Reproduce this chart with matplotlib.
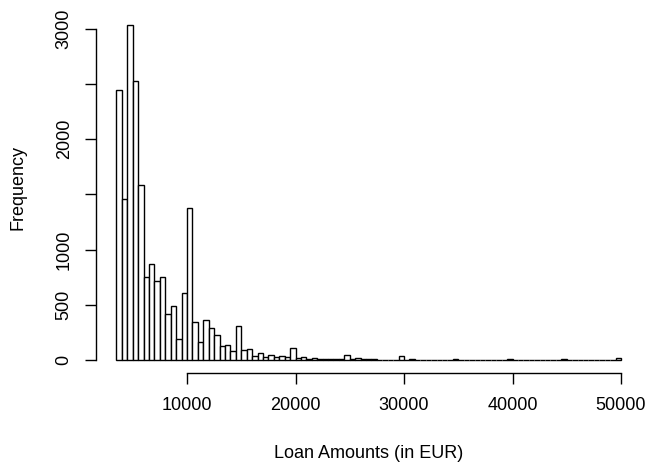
import matplotlib
matplotlib.use("Agg")
import matplotlib.pyplot as plt
import numpy as np

plt.rcParams['font.family'] = ['Liberation Sans', 'DejaVu Sans']

# histogram bins (EUR) and counts
bin_start = 3500
bin_width = 500
counts = [
    2446, 1456, 3035, 2531, 1585, 755, 867, 719, 749, 414,      # 3500 - 8000
    492, 187, 604, 1374, 347, 160, 365, 287, 226, 124,          # 8500 - 13000
    139, 78, 308, 95, 103, 36, 64, 27, 48, 30,                  # 13500 - 18000
    37, 24, 105, 20, 24, 10, 20, 10, 10, 10,                    # 18500 - 23000
    9, 8, 48, 10, 18, 6, 5, 5, 4, 4,                            # 23500 - 28000
    3, 2, 40, 2, 5, 2, 2, 1, 4, 1,                              # 28500 - 33000
    1, 1, 9, 1, 1, 1, 3, 3, 1, 1,                               # 33500 - 38000
    1, 1, 10, 1, 1, 0, 1, 1, 1, 0,                              # 38500 - 43000
    1, 1, 5, 1, 1, 1, 1, 1, 1, 1,                               # 43500 - 48000
    1, 1, 14,                                                   # 48500 - 49500
]

x_ticks = [10000, 20000, 30000, 40000, 50000]
y_ticks = [0, 500, 1000, 1500, 2000, 2500, 3000]
y_tick_labels = ['0', '500', '1000', '', '2000', '', '3000']

x_title = 'Loan Amounts (in EUR)'
y_title = 'Frequency'

W, H = 649, 466
fig = plt.figure(figsize=(W / 100, H / 100), dpi=100)
fig.patch.set_facecolor('white')

# plot region as in R (4% padding around data range)
left, right, top, bottom = 96.3, 641.2, 11.6, 373.4
ax = fig.add_axes([left / W, 1 - bottom / H, (right - left) / W, (bottom - top) / H])

edges = bin_start + bin_width * np.arange(len(counts) + 1)
ax.bar(edges[:-1], counts, width=bin_width, align='edge',
       facecolor='white', edgecolor='black', linewidth=1.0)

xmin, xmax = edges[0], edges[-1]
pad_x = 0.04 * (xmax - xmin)
ax.set_xlim(xmin - pad_x, xmax + pad_x)
ymax = max(counts)
ax.set_ylim(-0.04 * ymax, ymax * 1.04)

for s in ['top', 'right']:
    ax.spines[s].set_visible(False)
ax.spines['bottom'].set_bounds(x_ticks[0], x_ticks[-1])
ax.spines['left'].set_bounds(y_ticks[0], y_ticks[-1])
for s in ['bottom', 'left']:
    ax.spines[s].set_linewidth(1.0)

ax.set_xticks(x_ticks)
ax.set_xticklabels([str(t) for t in x_ticks])
ax.set_yticks(y_ticks)
ax.set_yticklabels(y_tick_labels, rotation=90, va='center')
ax.tick_params(direction='out', length=8, width=1.0, labelsize=13, pad=9)

fig.text(368.7 / W, 1 - 454 / H, x_title, fontsize=13, ha='center', va='center')
fig.text(18.5 / W, 1 - 188 / H, y_title, fontsize=13, rotation=90,
         ha='center', va='center')

fig.savefig('out.png', dpi=100, facecolor='white')
